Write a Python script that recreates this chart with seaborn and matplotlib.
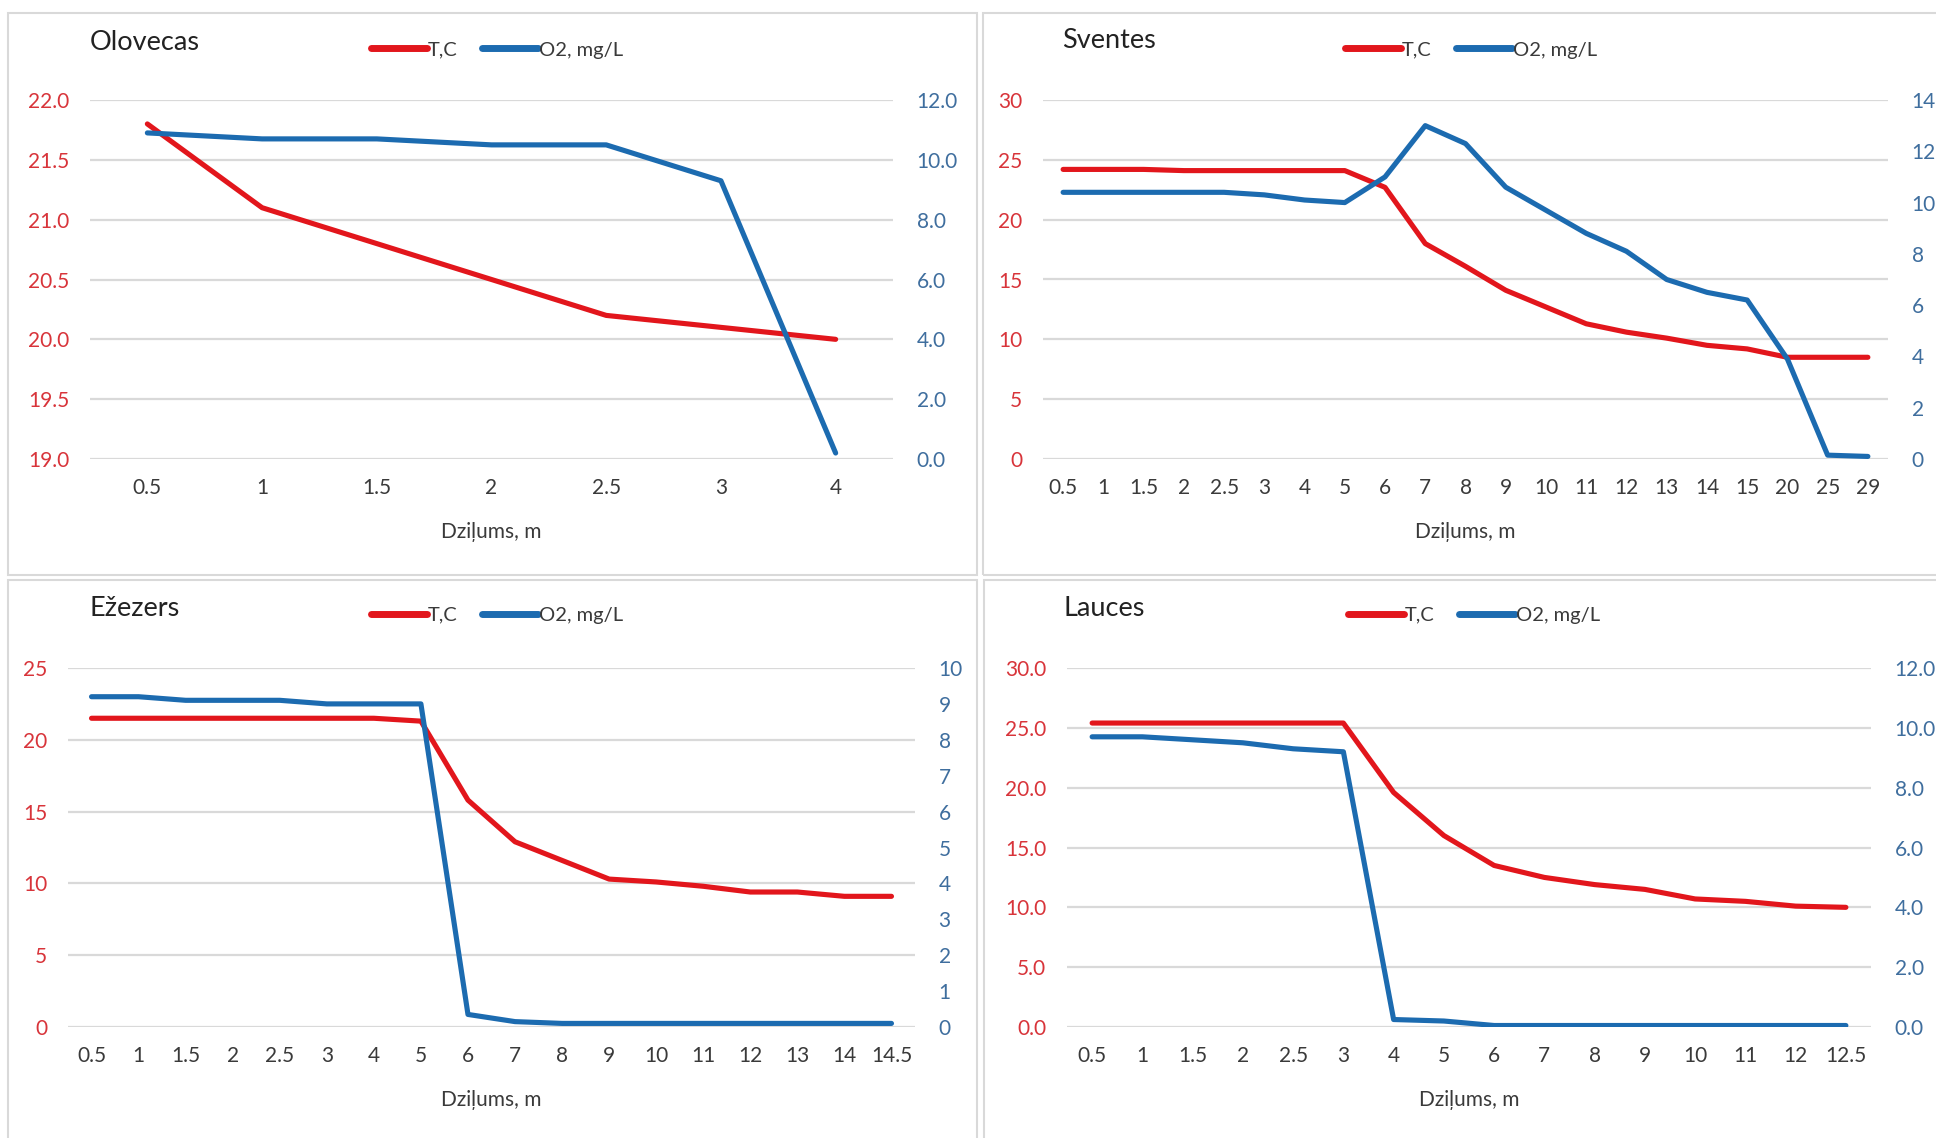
import numpy as np
import pandas as pd
import matplotlib
matplotlib.use("Agg")
import matplotlib.pyplot as plt
import seaborn as sns
from matplotlib.patches import Rectangle
from matplotlib.lines import Line2D

# --- data ---
olovecas_depth = ["0.5", "1", "1.5", "2", "2.5", "3", "4"]
olovecas_temp = [21.8, 21.1, 20.8, 20.5, 20.2, 20.1, 20.0]
olovecas_o2 = [10.9, 10.7, 10.7, 10.5, 10.5, 9.3, 0.2]

sventes_depth = ["0.5", "1", "1.5", "2", "2.5", "3", "4", "5", "6", "7", "8",
                 "9", "10", "11", "12", "13", "14", "15", "20", "25", "29"]
sventes_temp = [24.2, 24.2, 24.2, 24.1, 24.1, 24.1, 24.1, 24.1, 22.7, 18.0, 16.1,
                14.1, 12.7, 11.3, 10.6, 10.1, 9.5, 9.2, 8.5, 8.5, 8.5]
sventes_o2 = [10.4, 10.4, 10.4, 10.4, 10.4, 10.3, 10.1, 10.0, 11.0, 13.0, 12.3,
              10.6, 9.7, 8.8, 8.1, 7.0, 6.5, 6.2, 3.9, 0.15, 0.1]

ezezers_depth = ["0.5", "1", "1.5", "2", "2.5", "3", "4", "5", "6", "7", "8",
                 "9", "10", "11", "12", "13", "14", "14.5"]
ezezers_temp = [21.5, 21.5, 21.5, 21.5, 21.5, 21.5, 21.5, 21.3, 15.8, 12.9, 11.6,
                10.3, 10.1, 9.8, 9.4, 9.4, 9.1, 9.1]
ezezers_o2 = [9.2, 9.2, 9.1, 9.1, 9.1, 9.0, 9.0, 9.0, 0.35, 0.15, 0.1,
              0.1, 0.1, 0.1, 0.1, 0.1, 0.1, 0.1]

lauces_depth = ["0.5", "1", "1.5", "2", "2.5", "3", "4", "5", "6", "7", "8",
                "9", "10", "11", "12", "12.5"]
lauces_temp = [25.4, 25.4, 25.4, 25.4, 25.4, 25.4, 19.6, 16.0, 13.5, 12.5, 11.9,
               11.5, 10.7, 10.5, 10.1, 10.0]
lauces_o2 = [9.7, 9.7, 9.6, 9.5, 9.3, 9.2, 0.25, 0.2, 0.05, 0.05, 0.05,
             0.05, 0.05, 0.05, 0.05, 0.05]

names = ["Olovecas", "Sventes", "Ežezers", "Lauces"]
temp_limits = [(19, 22, 0.5, "{:.1f}"), (0, 30, 5, "{:.0f}"),
               (0, 25, 5, "{:.0f}"), (0, 30, 5, "{:.1f}")]
o2_limits = [(0, 12, 2, "{:.1f}"), (0, 14, 2, "{:.0f}"),
             (0, 10, 1, "{:.0f}"), (0, 12, 2, "{:.1f}")]

RED = "#E2161C"
BLUE = "#1C6BB0"
RED_TXT = "#D8343A"
BLUE_TXT = "#3F6E9E"
GRID = "#D9D9D9"
TXT = "#3A3A3A"

W, H = 1936, 1138

sns.set_theme(style="white")
plt.rcParams["font.family"] = ["Lato", "DejaVu Sans"]

fig = plt.figure(figsize=(W / 100, H / 100), dpi=100)
fig.patch.set_facecolor("white")


def px_rect(x0, y0, x1, y1):
    return [x0 / W, 1 - y1 / H, (x1 - x0) / W, (y1 - y0) / H]


# panel borders (pixel boxes)
borders = [(8, 13, 977, 575), (983, 13, 1950, 575),
           (8, 580, 977, 1150), (984, 580, 1950, 1150)]
for x0, y0, x1, y1 in borders:
    fig.patches.append(Rectangle((x0 / W, 1 - y1 / H), (x1 - x0) / W, (y1 - y0) / H,
                                 transform=fig.transFigure, fill=False,
                                 edgecolor=GRID, linewidth=1.5, zorder=0))

plot_boxes = [(90, 100, 893, 459), (1043, 100, 1888, 459),
              (68, 668, 915, 1027), (1067, 668, 1871, 1027)]
title_pos = [(90, 42), (1062, 40), (90, 609), (1064, 609)]
legend_pos = [(497, 50), (1471, 50), (497, 615), (1474, 615)]

panels = [
    (olovecas_depth, olovecas_temp, olovecas_o2),
    (sventes_depth, sventes_temp, sventes_o2),
    (ezezers_depth, ezezers_temp, ezezers_o2),
    (lauces_depth, lauces_temp, lauces_o2),
]

for i, (depth, temp, o2) in enumerate(panels):
    df = pd.DataFrame({"depth": depth, "temp": temp, "o2": o2})
    ax = fig.add_axes(px_rect(*plot_boxes[i]))
    ax2 = ax.twinx()

    sns.lineplot(data=df, x="depth", y="temp", ax=ax, color=RED, linewidth=3.7,
                 sort=False, zorder=3)
    sns.lineplot(data=df, x="depth", y="o2", ax=ax2, color=BLUE, linewidth=3.7,
                 sort=False, zorder=3)

    n = len(depth)
    ax.set_xlim(-0.5, n - 0.5)

    lo, hi, step, fmt = temp_limits[i]
    ticks = np.arange(lo, hi + step / 2, step)
    ax.set_ylim(lo, hi)
    ax.set_yticks(ticks)
    ax.set_yticklabels([fmt.format(t) for t in ticks])

    lo2, hi2, step2, fmt2 = o2_limits[i]
    ticks2 = np.arange(lo2, hi2 + step2 / 2, step2)
    ax2.set_ylim(lo2, hi2)
    ax2.set_yticks(ticks2)
    ax2.set_yticklabels([fmt2.format(t) for t in ticks2])

    ax.grid(axis="y", color=GRID, linewidth=1.6)
    ax.grid(axis="x", visible=False)
    ax2.grid(False)
    ax.set_axisbelow(True)
    for a in (ax, ax2):
        for s in a.spines.values():
            s.set_visible(False)
        a.patch.set_alpha(0)
    ax.tick_params(axis="y", length=0, pad=15, labelsize=15, labelcolor=RED_TXT)
    ax2.tick_params(axis="y", length=0, pad=17, labelsize=15, labelcolor=BLUE_TXT)
    ax.tick_params(axis="x", length=0, pad=14, labelsize=15, labelcolor=TXT)

    ax.set_ylabel("")
    ax2.set_ylabel("")
    ax.set_xlabel("Dziļums, m", fontsize=15, color=TXT, labelpad=17)

    tx, ty = title_pos[i]
    fig.text(tx / W, 1 - ty / H, names[i], fontsize=19.5, color="#222222",
             ha="left", va="center")

    handles = [Line2D([], [], color=RED, linewidth=5),
               Line2D([], [], color=BLUE, linewidth=5)]
    lx, ly = legend_pos[i]
    fig.legend(handles, ["T,C", "O2, mg/L"], loc="center",
               bbox_to_anchor=(lx / W, 1 - ly / H), ncol=2, frameon=False,
               fontsize=14.5, handlelength=2.8, handletextpad=0.05,
               columnspacing=1.2, labelcolor=TXT)

fig.savefig("out.png", dpi=100, facecolor="white")
